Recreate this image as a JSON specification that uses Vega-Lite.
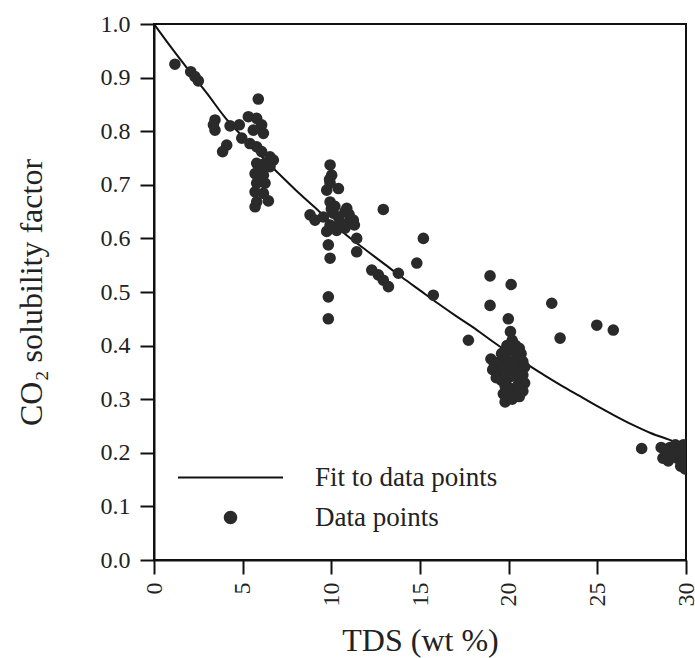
{
  "$schema": "https://vega.github.io/schema/vega-lite/v6.json",
  "autosize": "none",
  "width": 532,
  "height": 536,
  "padding": {"left": 154, "top": 24, "right": 9, "bottom": 98},
  "background": "white",
  "datasets": {
    "fit": [
      {"tds": 0, "factor": 1.0}, {"tds": 1, "factor": 0.955}, {"tds": 2, "factor": 0.912},
      {"tds": 3, "factor": 0.87}, {"tds": 4, "factor": 0.826}, {"tds": 5, "factor": 0.79},
      {"tds": 6, "factor": 0.755}, {"tds": 7, "factor": 0.722}, {"tds": 8, "factor": 0.69},
      {"tds": 9, "factor": 0.66}, {"tds": 10, "factor": 0.63}, {"tds": 11, "factor": 0.602},
      {"tds": 12, "factor": 0.577}, {"tds": 13, "factor": 0.552}, {"tds": 14, "factor": 0.527},
      {"tds": 15, "factor": 0.503}, {"tds": 16, "factor": 0.479}, {"tds": 17, "factor": 0.456},
      {"tds": 18, "factor": 0.434}, {"tds": 19, "factor": 0.41}, {"tds": 20, "factor": 0.387},
      {"tds": 21, "factor": 0.366}, {"tds": 22, "factor": 0.345}, {"tds": 23, "factor": 0.325},
      {"tds": 24, "factor": 0.306}, {"tds": 25, "factor": 0.287}, {"tds": 26, "factor": 0.269},
      {"tds": 27, "factor": 0.252}, {"tds": 28, "factor": 0.237}, {"tds": 29, "factor": 0.225},
      {"tds": 30, "factor": 0.213}
    ],
    "pts": [
      {"tds": 1.18, "factor": 0.925}, {"tds": 2.07, "factor": 0.911}, {"tds": 2.31, "factor": 0.902}, {"tds": 2.5, "factor": 0.894},
      {"tds": 5.88, "factor": 0.86}, {"tds": 3.44, "factor": 0.821}, {"tds": 3.44, "factor": 0.802}, {"tds": 3.35, "factor": 0.812},
      {"tds": 4.29, "factor": 0.81}, {"tds": 4.81, "factor": 0.812}, {"tds": 4.1, "factor": 0.774}, {"tds": 3.87, "factor": 0.762},
      {"tds": 4.95, "factor": 0.787}, {"tds": 5.32, "factor": 0.827}, {"tds": 5.79, "factor": 0.824}, {"tds": 6.07, "factor": 0.812},
      {"tds": 6.17, "factor": 0.796}, {"tds": 5.6, "factor": 0.802}, {"tds": 5.41, "factor": 0.777}, {"tds": 5.79, "factor": 0.771},
      {"tds": 6.07, "factor": 0.762}, {"tds": 6.54, "factor": 0.752}, {"tds": 6.54, "factor": 0.734}, {"tds": 6.26, "factor": 0.74},
      {"tds": 5.79, "factor": 0.74}, {"tds": 5.7, "factor": 0.721}, {"tds": 6.17, "factor": 0.718}, {"tds": 5.79, "factor": 0.703},
      {"tds": 6.26, "factor": 0.703}, {"tds": 5.7, "factor": 0.687}, {"tds": 6.17, "factor": 0.684}, {"tds": 5.79, "factor": 0.668},
      {"tds": 5.7, "factor": 0.659}, {"tds": 6.45, "factor": 0.67}, {"tds": 6.73, "factor": 0.746}, {"tds": 6.0, "factor": 0.73},
      {"tds": 9.93, "factor": 0.737}, {"tds": 10.02, "factor": 0.718}, {"tds": 9.93, "factor": 0.703}, {"tds": 10.4, "factor": 0.693},
      {"tds": 9.74, "factor": 0.69}, {"tds": 9.93, "factor": 0.668}, {"tds": 8.8, "factor": 0.644}, {"tds": 9.08, "factor": 0.634},
      {"tds": 9.55, "factor": 0.64}, {"tds": 10.11, "factor": 0.647}, {"tds": 10.77, "factor": 0.65}, {"tds": 11.06, "factor": 0.634},
      {"tds": 10.49, "factor": 0.631}, {"tds": 9.93, "factor": 0.625}, {"tds": 10.77, "factor": 0.619}, {"tds": 9.74, "factor": 0.613},
      {"tds": 11.43, "factor": 0.6}, {"tds": 9.83, "factor": 0.588}, {"tds": 11.43, "factor": 0.575}, {"tds": 9.93, "factor": 0.563},
      {"tds": 9.9, "factor": 0.71}, {"tds": 10.2, "factor": 0.66}, {"tds": 10.4, "factor": 0.64}, {"tds": 10.0, "factor": 0.655},
      {"tds": 10.6, "factor": 0.625}, {"tds": 10.3, "factor": 0.615}, {"tds": 11.0, "factor": 0.645}, {"tds": 10.87, "factor": 0.656},
      {"tds": 11.24, "factor": 0.634}, {"tds": 11.3, "factor": 0.625},
      {"tds": 12.93, "factor": 0.654}, {"tds": 15.19, "factor": 0.6}, {"tds": 14.82, "factor": 0.554}, {"tds": 13.78, "factor": 0.535},
      {"tds": 12.28, "factor": 0.541}, {"tds": 12.65, "factor": 0.532}, {"tds": 12.93, "factor": 0.522}, {"tds": 13.22, "factor": 0.51},
      {"tds": 15.75, "factor": 0.494}, {"tds": 9.83, "factor": 0.491}, {"tds": 9.83, "factor": 0.45},
      {"tds": 18.95, "factor": 0.53}, {"tds": 20.14, "factor": 0.514}, {"tds": 18.95, "factor": 0.475}, {"tds": 22.43, "factor": 0.479},
      {"tds": 17.73, "factor": 0.41}, {"tds": 19.98, "factor": 0.45}, {"tds": 22.9, "factor": 0.414}, {"tds": 24.97, "factor": 0.438},
      {"tds": 25.9, "factor": 0.429},
      {"tds": 20.1, "factor": 0.426}, {"tds": 20.2, "factor": 0.41}, {"tds": 20.4, "factor": 0.4}, {"tds": 20.6, "factor": 0.395},
      {"tds": 19.9, "factor": 0.4}, {"tds": 20.3, "factor": 0.39}, {"tds": 20.7, "factor": 0.385}, {"tds": 19.0, "factor": 0.375},
      {"tds": 19.2, "factor": 0.365}, {"tds": 19.5, "factor": 0.37}, {"tds": 19.8, "factor": 0.38}, {"tds": 20.0, "factor": 0.37},
      {"tds": 20.4, "factor": 0.375}, {"tds": 20.8, "factor": 0.37}, {"tds": 19.1, "factor": 0.355}, {"tds": 19.4, "factor": 0.35},
      {"tds": 19.7, "factor": 0.355}, {"tds": 20.2, "factor": 0.355}, {"tds": 20.6, "factor": 0.355}, {"tds": 20.9, "factor": 0.36},
      {"tds": 19.3, "factor": 0.34}, {"tds": 19.6, "factor": 0.335}, {"tds": 20.0, "factor": 0.34}, {"tds": 20.5, "factor": 0.34},
      {"tds": 20.8, "factor": 0.345}, {"tds": 19.8, "factor": 0.325}, {"tds": 20.1, "factor": 0.32}, {"tds": 20.5, "factor": 0.325},
      {"tds": 20.9, "factor": 0.33}, {"tds": 19.7, "factor": 0.31}, {"tds": 20.0, "factor": 0.305}, {"tds": 20.4, "factor": 0.31},
      {"tds": 19.8, "factor": 0.295}, {"tds": 20.2, "factor": 0.3}, {"tds": 20.6, "factor": 0.305}, {"tds": 20.8, "factor": 0.315},
      {"tds": 19.6, "factor": 0.385}, {"tds": 20.2, "factor": 0.365}, {"tds": 20.6, "factor": 0.32},
      {"tds": 27.5, "factor": 0.208},
      {"tds": 28.6, "factor": 0.21}, {"tds": 28.7, "factor": 0.19}, {"tds": 28.9, "factor": 0.2}, {"tds": 29.1, "factor": 0.21},
      {"tds": 29.0, "factor": 0.185}, {"tds": 29.3, "factor": 0.2}, {"tds": 29.4, "factor": 0.215}, {"tds": 29.6, "factor": 0.205},
      {"tds": 29.5, "factor": 0.19}, {"tds": 29.8, "factor": 0.2}, {"tds": 29.9, "factor": 0.185}, {"tds": 29.7, "factor": 0.175},
      {"tds": 29.95, "factor": 0.17}, {"tds": 29.2, "factor": 0.195}, {"tds": 29.85, "factor": 0.215}, {"tds": 28.8, "factor": 0.205}
    ]
  },
  "layer": [
    {
      "data": {"name": "fit"},
      "mark": {"type": "line", "strokeWidth": 2, "interpolate": "monotone"},
      "encoding": {
        "x": {"field": "tds", "type": "quantitative"},
        "y": {"field": "factor", "type": "quantitative"},
        "color": {"datum": "Fit to data points"}
      }
    },
    {
      "data": {"name": "pts"},
      "mark": {"type": "point", "filled": true, "opacity": 1, "size": 135, "shape": "circle", "clip": true},
      "encoding": {
        "x": {"field": "tds", "type": "quantitative"},
        "y": {"field": "factor", "type": "quantitative"},
        "color": {"datum": "Data points"}
      }
    }
  ],
  "resolve": {"scale": {"color": "shared"}},
  "encoding": {
    "x": {
      "field": "tds", "type": "quantitative",
      "scale": {"domain": [0, 30], "nice": false, "zero": false},
      "axis": {
        "title": "TDS (wt %)",
        "values": [0, 5, 10, 15, 20, 25, 30],
        "labelAngle": -90,
        "labelPadding": 8,
        "titlePadding": 19
      }
    },
    "y": {
      "field": "factor", "type": "quantitative",
      "scale": {"domain": [0, 1], "nice": false},
      "axis": {
        "title": "CO₂ solubility factor",
        "values": [0, 0.1, 0.2, 0.3, 0.4, 0.5, 0.6, 0.7, 0.8, 0.9, 1.0],
        "format": ".1f",
        "labelPadding": 10,
        "titlePadding": 52
      }
    },
    "color": {
      "type": "nominal",
      "scale": {"domain": ["Fit to data points", "Data points"], "range": ["#111111", "#2a2a2a"]},
      "legend": {
        "orient": "none",
        "legendX": 63,
        "legendY": 440,
        "title": null,
        "labelFont": "Times New Roman, Liberation Serif, serif",
        "labelFontSize": 27,
        "labelColor": "#222222",
        "labelLimit": 400,
        "labelOffset": 71,
        "rowPadding": 12,
        "symbolSize": 135,
        "encode": {
          "symbols": {
            "update": {
              "shape": {"signal": "datum.value === 'Fit to data points' ? 'stroke' : 'circle'"},
              "size": {"signal": "datum.value === 'Fit to data points' ? 11025 : 135"},
              "fill": {"signal": "datum.value === 'Fit to data points' ? 'transparent' : '#2a2a2a'"},
              "stroke": {"signal": "datum.value === 'Fit to data points' ? '#111111' : 'transparent'"},
              "strokeWidth": {"value": 2},
              "opacity": {"value": 1}
            }
          }
        }
      }
    }
  },
  "config": {
    "font": "Times New Roman, Liberation Serif, serif",
    "view": {"stroke": "#111111", "strokeWidth": 2},
    "axis": {
      "grid": false,
      "domainColor": "#111111",
      "domainWidth": 2,
      "tickColor": "#111111",
      "tickWidth": 2,
      "tickSize": 14,
      "labelFont": "Times New Roman, Liberation Serif, serif",
      "labelFontSize": 24,
      "labelColor": "#222222",
      "titleFont": "Times New Roman, Liberation Serif, serif",
      "titleFontSize": 32,
      "titleFontWeight": "normal",
      "titleColor": "#222222"
    }
  }
}
